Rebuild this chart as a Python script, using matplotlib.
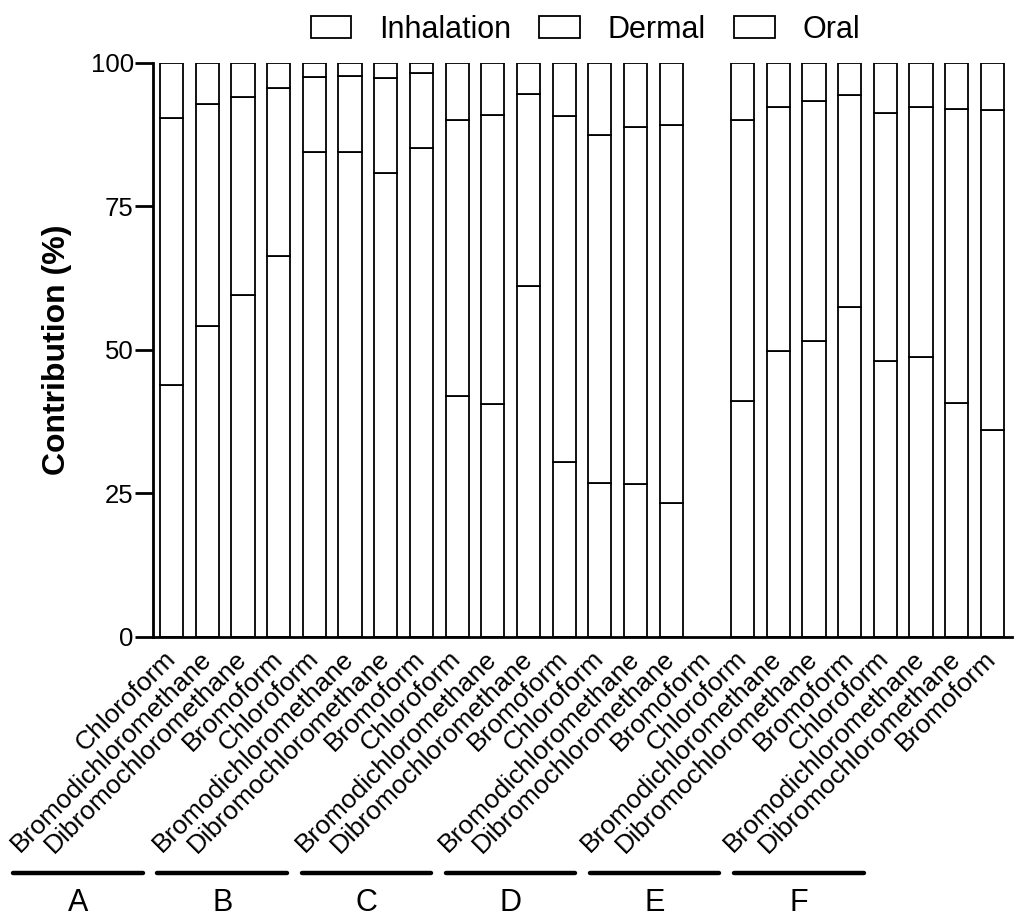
import matplotlib.pyplot as plt
import matplotlib.transforms as mtransforms
import numpy as np

plt.rcParams['font.family'] = ['Liberation Sans', 'DejaVu Sans']

compounds = ['Chloroform', 'Bromodichloromethane',
             'Dibromochloromethane', 'Bromoform']
groups = ['A', 'B', 'C', 'D', 'E', 'F']
series_names = ['Inhalation', 'Dermal', 'Oral']

# cumulative boundaries (%), nan = no data
inhal_top = [43.8, 54.1, 59.5, 66.4,
             84.5, 84.4, 80.9, 85.1,
             41.9, 40.6, 61.2, 30.4,
             26.8, 26.6, 23.4, np.nan,
             41.1, 49.8, 51.6, 57.4,
             48.1, 48.8, 40.8, 36.1]
dermal_top = [90.4, 92.8, 94.1, 95.6,
              97.5, 97.7, 97.4, 98.2,
              90.1, 90.9, 94.6, 90.8,
              87.5, 88.8, 89.2, np.nan,
              90.1, 92.4, 93.4, 94.4,
              91.2, 92.4, 92.0, 91.8]

inhalation = np.array(inhal_top)
dermal = np.array(dermal_top) - inhalation
oral = 100 - np.array(dermal_top)

labels = compounds * len(groups)
x = np.arange(len(labels))
width = 0.65
font_size = 19

fig = plt.figure(figsize=(10.14, 9.19), dpi=100)
ax = fig.add_axes([0.151, 0.307, 0.847, 0.6245])

bottom = np.zeros(len(x))
for name, vals in zip(series_names, [inhalation, dermal, oral]):
    ax.bar(x, vals, width, bottom=bottom, color='white',
           edgecolor='black', linewidth=1.3, label=name)
    bottom = bottom + vals

ax.set_xlim(-0.52, 23.55)
ax.set_ylim(0, 100)
ax.set_yticks([0, 25, 50, 75, 100])
ax.tick_params(axis='y', labelsize=18.5, length=13, width=2,
               direction='out', pad=1)
ax.set_xticks(x)
ax.set_xticklabels(labels, rotation=45, ha='right', va='center',
                   rotation_mode='anchor', fontsize=font_size)
ax.tick_params(axis='x', length=0, pad=13)
for side in ['top', 'right']:
    ax.spines[side].set_visible(False)
for side in ['left', 'bottom']:
    ax.spines[side].set_linewidth(2)

ax.set_ylabel('Contribution (%)', fontsize=23, fontweight='bold')
ax.yaxis.set_label_coords(-0.094, 0.5)

# group underlines and letters
trans = mtransforms.blended_transform_factory(ax.transData, ax.transAxes)
for g, name in enumerate(groups):
    start = 4.04 * g - 4.44
    ax.plot([start, start + 3.63], [-0.411, -0.411], color='black',
            linewidth=3.2, transform=trans, clip_on=False,
            solid_capstyle='round')
    ax.text(start + 1.815, -0.463, name, transform=trans, fontsize=22,
            ha='center', va='center')

ax.legend(loc='center', bbox_to_anchor=(0.503, 1.058), ncol=3,
          frameon=False, fontsize=22, handlelength=1.33,
          handleheight=0.73, handletextpad=0.9, columnspacing=0.93)

plt.savefig('out.png', dpi=100)
plt.close()
